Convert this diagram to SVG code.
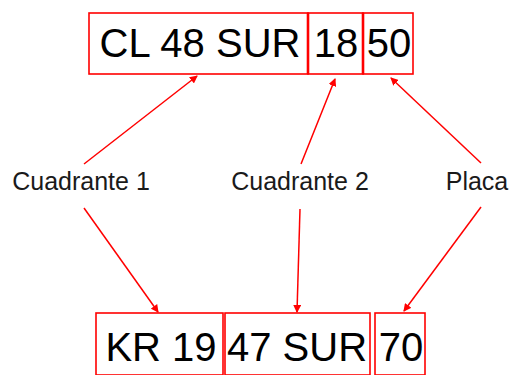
<svg xmlns="http://www.w3.org/2000/svg" width="509" height="375" viewBox="0 0 509 375">
  <style>
    .box { fill: #ffffff; stroke: #ff0000; stroke-width: 1.6; }
    .div { stroke: #ff0000; stroke-width: 2.6; }
    .big { font-family: "Liberation Sans", Arial, sans-serif; font-size: 40px; fill: #000000; text-anchor: middle; }
    .lbl { font-family: "Liberation Sans", Arial, sans-serif; font-size: 25px; fill: #1a1a1a; text-anchor: middle; }
    .conn { stroke: #ff0000; stroke-width: 1.5; fill: none; marker-end: url(#arrow); }
  </style>
  <defs>
    <marker id="arrow" markerWidth="8" markerHeight="8" refX="7" refY="4" orient="auto" markerUnits="userSpaceOnUse">
      <path d="M0,0 L8,4 L0,8 z" fill="#ff0000"/>
    </marker>
  </defs>
  <rect width="509" height="375" fill="#ffffff"/>

  <!-- upper address: CL 48 SUR | 18 | 50 -->
  <g id="top-street">
    <rect class="box" x="89" y="13" width="219" height="61"/>
    <text class="big" x="200" y="57">CL 48 SUR</text>
  </g>
  <g id="top-number">
    <rect class="box" x="308" y="13" width="55" height="61"/>
    <line class="div" x1="308" y1="13" x2="308" y2="74"/>
    <text class="big" x="336" y="57">18</text>
  </g>
  <g id="top-plate">
    <rect class="box" x="363" y="13" width="50" height="61"/>
    <line class="div" x1="363" y1="13" x2="363" y2="74"/>
    <text class="big" x="389" y="57">50</text>
  </g>

  <!-- labels -->
  <g id="label-cuadrante1">
    <text class="lbl" x="81" y="190">Cuadrante 1</text>
  </g>
  <g id="label-cuadrante2">
    <text class="lbl" x="300" y="190">Cuadrante 2</text>
  </g>
  <g id="label-placa">
    <text class="lbl" x="477" y="190">Placa</text>
  </g>

  <!-- lower address: KR 19 | 47 SUR | 70 -->
  <g id="bottom-street">
    <rect class="box" x="96" y="313" width="127" height="62"/>
    <text class="big" x="161" y="361">KR 19</text>
  </g>
  <g id="bottom-number">
    <rect class="box" x="225" y="313" width="145" height="62"/>
    <text class="big" x="297" y="361">47 SUR</text>
  </g>
  <g id="bottom-plate">
    <rect class="box" x="375" y="313" width="50" height="62"/>
    <text class="big" x="401" y="361">70</text>
  </g>

  <!-- connectors -->
  <g id="connectors">
    <line class="conn" x1="84" y1="164" x2="197" y2="76"/>
    <line class="conn" x1="301" y1="164" x2="335" y2="79"/>
    <line class="conn" x1="481" y1="163" x2="391" y2="78"/>
    <line class="conn" x1="84" y1="208" x2="158" y2="312"/>
    <line class="conn" x1="300" y1="209" x2="297" y2="312"/>
    <line class="conn" x1="481" y1="207" x2="404" y2="311"/>
  </g>
</svg>
